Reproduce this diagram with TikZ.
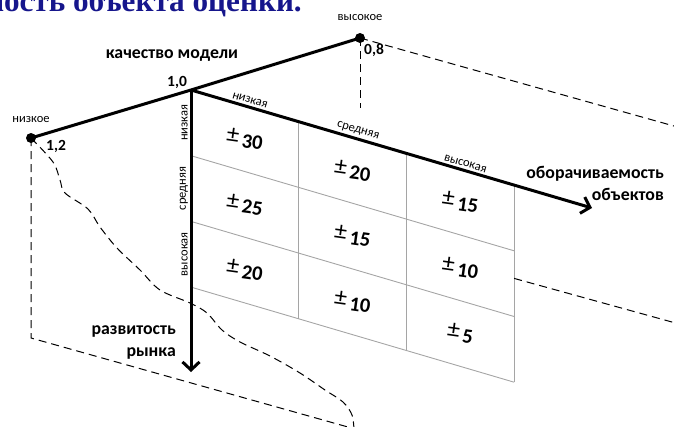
\documentclass[tikz,border=0pt]{standalone}
\usepackage{fontspec}
\setmainfont{Carlito}
\newfontfamily\titlefont{Liberation Serif}
\usetikzlibrary{arrows.meta, calc, positioning}
\definecolor{titleblue}{RGB}{22,22,140}
\definecolor{gridgray}{RGB}{165,165,165}
\newcommand{\pmcell}[1]{{\mdseries\fontsize{25}{25}\selectfont\raisebox{3.5pt}{±}}\,#1}

\begin{document}
\begin{tikzpicture}[
    x=1pt, y=-1pt,
    axis/.style={draw=black, line width=3pt},
    arr/.style={axis, -{Straight Barb[length=8pt, width=17pt]}},
    dash_line/.style={draw=black, line width=1pt, dash pattern=on 8pt off 5pt},
    grid_line/.style={draw=gridgray, line width=0.9pt},
    dot/.style={circle, fill=black, inner sep=0pt, minimum size=10pt},
    axis_title/.style={font=\fontsize{17.8}{22}\selectfont\bfseries, align=right, inner sep=0pt},
    level/.style={font=\fontsize{12.5}{14}\selectfont, inner sep=1.5pt},
    coef/.style={font=\fontsize{15.5}{18}\selectfont\bfseries, inner sep=0pt},
    cell/.style={font=\fontsize{20.5}{24}\selectfont\bfseries, rotate=-8}
]
\useasboundingbox (0,0) rectangle (674,426);
\clip (0,0) rectangle (674,426);

% heading of the page, cut by the top edge
\node[anchor=base east, inner sep=0pt, text=titleblue,
      font=\titlefont\fontsize{31.2}{34}\selectfont\bfseries] (title) at (302,11) {мость объекта оценки.};

% points of the quality scale
\coordinate (lo) at (31,138);
\coordinate (o) at (191,90);
\coordinate (hi) at (360,38);
\coordinate (turn_end) at (592,208);
\coordinate (market_end) at (191,372);

% 3 x 3 table, skewed along the turnover axis
\begin{scope}[shift={(o)}, x={(107.7pt,-31.7pt)}, y={(0pt,-65.7pt)}]
  \foreach \i in {1,2,3} \draw[grid_line] (\i,0) -- (\i,3);
  \foreach \j in {1,2,3} \draw[grid_line] (0,\j) -- (3,\j);
  \foreach \i/\j/\v in {0/0/30, 0/1/25, 0/2/20, 1/0/20, 1/1/15, 1/2/10, 2/0/15, 2/1/10, 2/2/5}
    \node[cell] (c\i\j) at (\i+0.5,\j+0.5) {\pmcell{\v}};
  \foreach \i/\t in {0/низкая, 1/средняя, 2/высокая}
    \node[level, anchor=south, rotate=-16.4, inner sep=3.5pt] (col\i) at (\i+0.53,0) {\t};
  \coordinate (edge_mid) at (3,1.42);
\end{scope}
\foreach \j/\t in {0/низкая, 1/средняя, 2/высокая}
  \node[level, anchor=south, rotate=90, inner sep=3pt] (row\j) at ($(o)+(0,32.85+65.7*\j)$) {\t};

% guide lines
\coordinate (hi_foot) at (360,108);
\coordinate (hi_far) at (690,130.5);
\coordinate (edge_far) at (690,327);
\coordinate (lo_foot) at (31,338);
\coordinate (lo_far) at (380,436);
\draw[dash_line] (hi) -- (hi_foot);
\draw[dash_line] (hi) -- (hi_far);
\draw[dash_line] (edge_mid) -- (edge_far);
\draw[dash_line] (lo) -- (lo_foot) -- (lo_far);
\draw[dash_line] plot[smooth, tension=0.55] coordinates {(lo) (53,162) (60,180) (65,193) (88,209)
  (100,227) (117,248) (140,270) (160,290) (190,303) (207,313) (222,330) (240,342) (270,356)
  (300,373) (325,390) (343,402) (352,415) (354,430)};

% axes
\draw[axis, line join=round] (lo) -- (o) -- (hi);
\draw[arr] (o) -- (turn_end);
\draw[arr] (o) -- (market_end);
\node[dot] (lo_dot) at (lo) {};
\node[dot] (hi_dot) at (hi) {};

% labels
\node[axis_title] (quality) at (172,56) {качество модели};
\node[axis_title, anchor=north east] (turnover) at (664,166) {оборачиваемость\\объектов};
\node[axis_title, anchor=north east] (market) at (176,325) {развитость\\рынка};
\node[level] (lo_lbl) at (31,120) {низкое};
\node[level] (hi_lbl) at (360,18) {высокое};
\node[coef] (lo_val) at (56,146) {1,2};
\node[coef] (o_val) at (177,82) {1,0};
\node[coef] (hi_val) at (374,50) {0,8};
\end{tikzpicture}
\end{document}
